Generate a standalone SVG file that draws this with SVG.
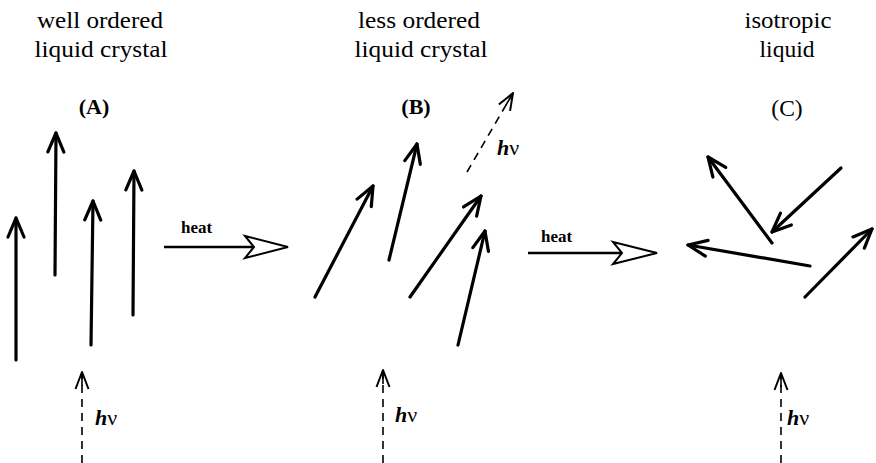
<svg xmlns="http://www.w3.org/2000/svg" width="876" height="463" viewBox="0 0 876 463">
<style>
.lbl{font-family:"Liberation Serif","Times New Roman",serif;font-size:23.5px;fill:#000;text-anchor:middle}
.let{font-family:"Liberation Serif","Times New Roman",serif;font-size:22px;font-weight:bold;fill:#000;text-anchor:middle}
.heat{font-family:"Liberation Serif","Times New Roman",serif;font-size:17px;font-weight:bold;fill:#000}
.hv{font-family:"Liberation Serif","Times New Roman",serif;font-size:22px;fill:#000}
.hi{font-weight:bold;font-style:italic}
.mol{stroke:#000;stroke-width:3.2;fill:none;stroke-linecap:round;marker-end:url(#head)}
.ph{stroke:#000;stroke-width:1.6;fill:none;stroke-dasharray:8 6;marker-end:url(#phead)}
.ht{stroke:#000;stroke-width:2.6;fill:none}
.hh{stroke:#000;stroke-width:2;fill:#fff;stroke-linejoin:miter}
</style>
<defs>
<marker id="head" viewBox="0 0 24 20" refX="21" refY="10" markerWidth="24" markerHeight="20" markerUnits="userSpaceOnUse" orient="auto">
<path d="M2,2 L21,10 L2,18" fill="none" stroke="#000" stroke-width="3.2" stroke-linecap="round" stroke-linejoin="round"/>
</marker>
<marker id="phead" viewBox="0 0 20 16" refX="18" refY="8" markerWidth="20" markerHeight="16" markerUnits="userSpaceOnUse" orient="auto">
<path d="M1,1.5 L18,8 L1,14.5" fill="none" stroke="#000" stroke-width="2" stroke-linejoin="round"/>
<path d="M4,8 L16,8" fill="none" stroke="#000" stroke-width="1.6"/>
</marker>
</defs>
<g id="labels">
<text class="lbl" x="100" y="28" textLength="126" lengthAdjust="spacingAndGlyphs">well ordered</text>
<text class="lbl" x="101" y="57" textLength="133" lengthAdjust="spacingAndGlyphs">liquid crystal</text>
<text class="lbl" x="419" y="28" textLength="122" lengthAdjust="spacingAndGlyphs">less ordered</text>
<text class="lbl" x="421" y="57" textLength="133" lengthAdjust="spacingAndGlyphs">liquid crystal</text>
<text class="lbl" x="788" y="28" textLength="87" lengthAdjust="spacingAndGlyphs">isotropic</text>
<text class="lbl" x="787" y="57">liquid</text>
<text class="let" x="94" y="114">(A)</text>
<text class="let" x="416" y="114">(B)</text>
<text class="lbl" x="787" y="116">(C)</text>
</g>
<g id="phaseA">
<line class="mol" x1="16" y1="360" x2="16" y2="218"/>
<line class="mol" x1="55" y1="275" x2="56" y2="133"/>
<line class="mol" x1="91" y1="345" x2="93" y2="201"/>
<line class="mol" x1="133" y1="315" x2="134" y2="171"/>
</g>
<g id="phaseB">
<line class="mol" x1="315" y1="297" x2="373" y2="186"/>
<line class="mol" x1="389" y1="260" x2="417" y2="144"/>
<line class="mol" x1="410" y1="297" x2="481" y2="196"/>
<line class="mol" x1="458" y1="345" x2="485" y2="231"/>
</g>
<g id="phaseC">
<line class="mol" x1="772" y1="243" x2="708" y2="157"/>
<line class="mol" x1="841" y1="168" x2="772" y2="232"/>
<line class="mol" x1="810" y1="266" x2="688" y2="245"/>
<line class="mol" x1="805" y1="297" x2="872" y2="229"/>
</g>
<g id="connectors">
<line class="ht" x1="164" y1="247" x2="253" y2="247"/>
<path class="hh" d="M245,236 L288,247 L245,258 L254,247 Z"/>
<line class="ht" x1="528" y1="253" x2="621" y2="253"/>
<path class="hh" d="M613,242 L657,253 L613,264 L622,253 Z"/>
<line class="ph" x1="467" y1="172" x2="513" y2="93"/>
<line class="ph" x1="82" y1="463" x2="82" y2="372"/>
<line class="ph" x1="383" y1="463" x2="383" y2="370"/>
<line class="ph" x1="781" y1="463" x2="781" y2="373"/>
</g>
<g id="texts">
<text class="heat" x="181" y="233">heat</text>
<text class="heat" x="541" y="242">heat</text>
<text class="hv" x="497" y="155"><tspan class="hi">h</tspan>ν</text>
<text class="hv" x="95" y="425"><tspan class="hi">h</tspan>ν</text>
<text class="hv" x="395" y="422"><tspan class="hi">h</tspan>ν</text>
<text class="hv" x="787" y="425"><tspan class="hi">h</tspan>ν</text>
</g>
</svg>
